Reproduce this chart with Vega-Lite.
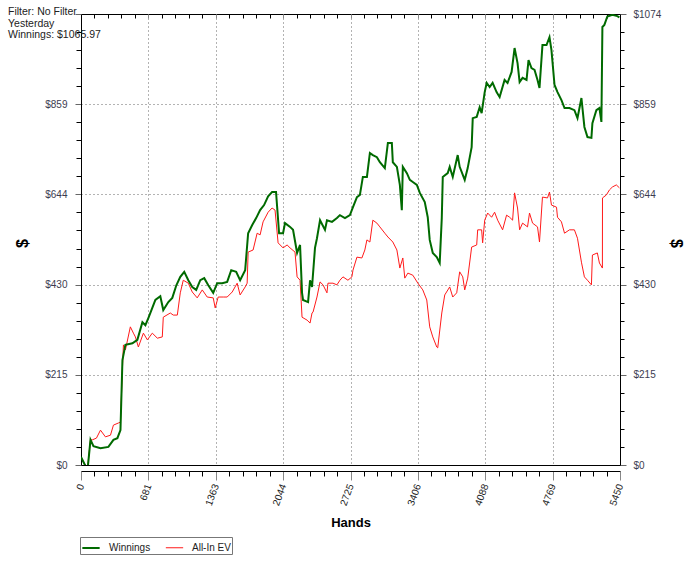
{
  "$schema": "https://vega.github.io/schema/vega-lite/v6.json",
  "autosize": {"type": "none"},
  "padding": {"left": 81, "top": 14, "right": 80, "bottom": 99},
  "width": 539,
  "height": 451,
  "background": "#ffffff",
  "title": {
    "text": ["Filter: No Filter", "Yesterday", "Winnings: $1065.97"],
    "anchor": "start",
    "frame": "group",
    "orient": "top",
    "offset": 0,
    "baseline": "top",
    "dx": -73,
    "dy": 32,
    "font": "Liberation Sans",
    "fontSize": 10.5,
    "fontWeight": "normal",
    "color": "#222222",
    "lineHeight": 11.8
  },
  "config": {
    "view": {"stroke": "#000000", "strokeWidth": 1},
    "axis": {
      "labelFont": "Liberation Sans",
      "labelFontSize": 10,
      "titleFont": "Liberation Sans",
      "labelOverlap": false,
      "labelFlush": false,
      "labelBound": false
    },
    "legend": {
      "orient": "none",
      "legendX": -1,
      "legendY": 523,
      "direction": "horizontal",
      "strokeColor": "#777777",
      "fillColor": "#ffffff",
      "padding": 1,
      "symbolType": "stroke",
      "symbolSize": 300,
      "symbolStrokeWidth": 2,
      "labelFont": "Liberation Sans",
      "labelFontSize": 10,
      "labelColor": "#222222",
      "columnPadding": 12,
      "labelOffset": 8
    }
  },
  "data": {
    "values": [
      {"hand":0,"amt":19,"series":"All-In EV"},{"hand":25,"amt":7,"series":"All-In EV"},{"hand":66,"amt":-7,"series":"All-In EV"},{"hand":96,"amt":60,"series":"All-In EV"},{"hand":116,"amt":60,"series":"All-In EV"},{"hand":156,"amt":64,"series":"All-In EV"},{"hand":197,"amt":83,"series":"All-In EV"},{"hand":247,"amt":67,"series":"All-In EV"},{"hand":298,"amt":71,"series":"All-In EV"},{"hand":328,"amt":95,"series":"All-In EV"},{"hand":378,"amt":100,"series":"All-In EV"},{"hand":399,"amt":102,"series":"All-In EV"},{"hand":419,"amt":231,"series":"All-In EV"},{"hand":429,"amt":286,"series":"All-In EV"},{"hand":449,"amt":274,"series":"All-In EV"},{"hand":499,"amt":329,"series":"All-In EV"},{"hand":530,"amt":314,"series":"All-In EV"},{"hand":550,"amt":305,"series":"All-In EV"},{"hand":580,"amt":281,"series":"All-In EV"},{"hand":631,"amt":314,"series":"All-In EV"},{"hand":671,"amt":298,"series":"All-In EV"},{"hand":721,"amt":314,"series":"All-In EV"},{"hand":772,"amt":302,"series":"All-In EV"},{"hand":822,"amt":305,"series":"All-In EV"},{"hand":832,"amt":352,"series":"All-In EV"},{"hand":903,"amt":362,"series":"All-In EV"},{"hand":933,"amt":357,"series":"All-In EV"},{"hand":974,"amt":357,"series":"All-In EV"},{"hand":1004,"amt":410,"series":"All-In EV"},{"hand":1034,"amt":440,"series":"All-In EV"},{"hand":1085,"amt":433,"series":"All-In EV"},{"hand":1125,"amt":412,"series":"All-In EV"},{"hand":1175,"amt":398,"series":"All-In EV"},{"hand":1226,"amt":417,"series":"All-In EV"},{"hand":1276,"amt":400,"series":"All-In EV"},{"hand":1337,"amt":398,"series":"All-In EV"},{"hand":1357,"amt":374,"series":"All-In EV"},{"hand":1387,"amt":400,"series":"All-In EV"},{"hand":1438,"amt":400,"series":"All-In EV"},{"hand":1478,"amt":400,"series":"All-In EV"},{"hand":1529,"amt":412,"series":"All-In EV"},{"hand":1579,"amt":433,"series":"All-In EV"},{"hand":1609,"amt":405,"series":"All-In EV"},{"hand":1660,"amt":424,"series":"All-In EV"},{"hand":1680,"amt":433,"series":"All-In EV"},{"hand":1690,"amt":507,"series":"All-In EV"},{"hand":1740,"amt":512,"series":"All-In EV"},{"hand":1781,"amt":552,"series":"All-In EV"},{"hand":1811,"amt":548,"series":"All-In EV"},{"hand":1841,"amt":579,"series":"All-In EV"},{"hand":1892,"amt":602,"series":"All-In EV"},{"hand":1932,"amt":612,"series":"All-In EV"},{"hand":1962,"amt":607,"series":"All-In EV"},{"hand":1993,"amt":529,"series":"All-In EV"},{"hand":2043,"amt":517,"series":"All-In EV"},{"hand":2084,"amt":524,"series":"All-In EV"},{"hand":2114,"amt":517,"series":"All-In EV"},{"hand":2164,"amt":507,"series":"All-In EV"},{"hand":2185,"amt":448,"series":"All-In EV"},{"hand":2215,"amt":440,"series":"All-In EV"},{"hand":2235,"amt":352,"series":"All-In EV"},{"hand":2286,"amt":345,"series":"All-In EV"},{"hand":2316,"amt":338,"series":"All-In EV"},{"hand":2336,"amt":362,"series":"All-In EV"},{"hand":2346,"amt":364,"series":"All-In EV"},{"hand":2386,"amt":400,"series":"All-In EV"},{"hand":2417,"amt":436,"series":"All-In EV"},{"hand":2447,"amt":429,"series":"All-In EV"},{"hand":2487,"amt":410,"series":"All-In EV"},{"hand":2497,"amt":433,"series":"All-In EV"},{"hand":2548,"amt":433,"series":"All-In EV"},{"hand":2588,"amt":429,"series":"All-In EV"},{"hand":2618,"amt":440,"series":"All-In EV"},{"hand":2649,"amt":448,"series":"All-In EV"},{"hand":2699,"amt":440,"series":"All-In EV"},{"hand":2739,"amt":448,"series":"All-In EV"},{"hand":2750,"amt":464,"series":"All-In EV"},{"hand":2790,"amt":495,"series":"All-In EV"},{"hand":2840,"amt":493,"series":"All-In EV"},{"hand":2870,"amt":512,"series":"All-In EV"},{"hand":2891,"amt":536,"series":"All-In EV"},{"hand":2921,"amt":531,"series":"All-In EV"},{"hand":2951,"amt":583,"series":"All-In EV"},{"hand":2992,"amt":576,"series":"All-In EV"},{"hand":3022,"amt":567,"series":"All-In EV"},{"hand":3072,"amt":552,"series":"All-In EV"},{"hand":3103,"amt":543,"series":"All-In EV"},{"hand":3153,"amt":531,"series":"All-In EV"},{"hand":3194,"amt":512,"series":"All-In EV"},{"hand":3224,"amt":469,"series":"All-In EV"},{"hand":3254,"amt":493,"series":"All-In EV"},{"hand":3274,"amt":445,"series":"All-In EV"},{"hand":3305,"amt":457,"series":"All-In EV"},{"hand":3355,"amt":452,"series":"All-In EV"},{"hand":3406,"amt":433,"series":"All-In EV"},{"hand":3456,"amt":417,"series":"All-In EV"},{"hand":3496,"amt":393,"series":"All-In EV"},{"hand":3526,"amt":329,"series":"All-In EV"},{"hand":3557,"amt":305,"series":"All-In EV"},{"hand":3597,"amt":281,"series":"All-In EV"},{"hand":3607,"amt":279,"series":"All-In EV"},{"hand":3648,"amt":362,"series":"All-In EV"},{"hand":3678,"amt":405,"series":"All-In EV"},{"hand":3728,"amt":424,"series":"All-In EV"},{"hand":3759,"amt":400,"series":"All-In EV"},{"hand":3799,"amt":410,"series":"All-In EV"},{"hand":3829,"amt":460,"series":"All-In EV"},{"hand":3860,"amt":448,"series":"All-In EV"},{"hand":3880,"amt":417,"series":"All-In EV"},{"hand":3910,"amt":445,"series":"All-In EV"},{"hand":3950,"amt":519,"series":"All-In EV"},{"hand":4001,"amt":524,"series":"All-In EV"},{"hand":4011,"amt":560,"series":"All-In EV"},{"hand":4051,"amt":560,"series":"All-In EV"},{"hand":4061,"amt":529,"series":"All-In EV"},{"hand":4082,"amt":583,"series":"All-In EV"},{"hand":4112,"amt":600,"series":"All-In EV"},{"hand":4152,"amt":590,"series":"All-In EV"},{"hand":4182,"amt":602,"series":"All-In EV"},{"hand":4213,"amt":583,"series":"All-In EV"},{"hand":4263,"amt":560,"series":"All-In EV"},{"hand":4303,"amt":595,"series":"All-In EV"},{"hand":4334,"amt":590,"series":"All-In EV"},{"hand":4364,"amt":583,"series":"All-In EV"},{"hand":4384,"amt":648,"series":"All-In EV"},{"hand":4414,"amt":612,"series":"All-In EV"},{"hand":4435,"amt":560,"series":"All-In EV"},{"hand":4465,"amt":576,"series":"All-In EV"},{"hand":4515,"amt":567,"series":"All-In EV"},{"hand":4535,"amt":600,"series":"All-In EV"},{"hand":4566,"amt":576,"series":"All-In EV"},{"hand":4616,"amt":567,"series":"All-In EV"},{"hand":4636,"amt":531,"series":"All-In EV"},{"hand":4666,"amt":638,"series":"All-In EV"},{"hand":4717,"amt":636,"series":"All-In EV"},{"hand":4737,"amt":650,"series":"All-In EV"},{"hand":4757,"amt":619,"series":"All-In EV"},{"hand":4808,"amt":614,"series":"All-In EV"},{"hand":4818,"amt":590,"series":"All-In EV"},{"hand":4858,"amt":579,"series":"All-In EV"},{"hand":4889,"amt":552,"series":"All-In EV"},{"hand":4939,"amt":560,"series":"All-In EV"},{"hand":4989,"amt":560,"series":"All-In EV"},{"hand":5020,"amt":540,"series":"All-In EV"},{"hand":5060,"amt":483,"series":"All-In EV"},{"hand":5090,"amt":448,"series":"All-In EV"},{"hand":5121,"amt":440,"series":"All-In EV"},{"hand":5161,"amt":429,"series":"All-In EV"},{"hand":5171,"amt":500,"series":"All-In EV"},{"hand":5221,"amt":505,"series":"All-In EV"},{"hand":5242,"amt":481,"series":"All-In EV"},{"hand":5272,"amt":469,"series":"All-In EV"},{"hand":5273,"amt":636,"series":"All-In EV"},{"hand":5312,"amt":643,"series":"All-In EV"},{"hand":5343,"amt":655,"series":"All-In EV"},{"hand":5373,"amt":662,"series":"All-In EV"},{"hand":5413,"amt":667,"series":"All-In EV"},{"hand":5444,"amt":660,"series":"All-In EV"},
      {"hand":0,"amt":19,"series":"Winnings"},{"hand":25,"amt":7,"series":"Winnings"},{"hand":66,"amt":-12,"series":"Winnings"},{"hand":96,"amt":60,"series":"Winnings"},{"hand":126,"amt":45,"series":"Winnings"},{"hand":197,"amt":40,"series":"Winnings"},{"hand":277,"amt":43,"series":"Winnings"},{"hand":328,"amt":60,"series":"Winnings"},{"hand":368,"amt":64,"series":"Winnings"},{"hand":399,"amt":83,"series":"Winnings"},{"hand":419,"amt":250,"series":"Winnings"},{"hand":449,"amt":286,"series":"Winnings"},{"hand":520,"amt":290,"series":"Winnings"},{"hand":570,"amt":298,"series":"Winnings"},{"hand":621,"amt":340,"series":"Winnings"},{"hand":651,"amt":333,"series":"Winnings"},{"hand":681,"amt":350,"series":"Winnings"},{"hand":721,"amt":374,"series":"Winnings"},{"hand":752,"amt":393,"series":"Winnings"},{"hand":802,"amt":402,"series":"Winnings"},{"hand":832,"amt":369,"series":"Winnings"},{"hand":883,"amt":388,"series":"Winnings"},{"hand":923,"amt":398,"series":"Winnings"},{"hand":964,"amt":428,"series":"Winnings"},{"hand":1004,"amt":448,"series":"Winnings"},{"hand":1044,"amt":460,"series":"Winnings"},{"hand":1085,"amt":440,"series":"Winnings"},{"hand":1125,"amt":424,"series":"Winnings"},{"hand":1165,"amt":417,"series":"Winnings"},{"hand":1206,"amt":440,"series":"Winnings"},{"hand":1246,"amt":445,"series":"Winnings"},{"hand":1287,"amt":428,"series":"Winnings"},{"hand":1337,"amt":410,"series":"Winnings"},{"hand":1377,"amt":433,"series":"Winnings"},{"hand":1428,"amt":433,"series":"Winnings"},{"hand":1478,"amt":436,"series":"Winnings"},{"hand":1519,"amt":464,"series":"Winnings"},{"hand":1569,"amt":460,"series":"Winnings"},{"hand":1609,"amt":440,"series":"Winnings"},{"hand":1660,"amt":464,"series":"Winnings"},{"hand":1690,"amt":552,"series":"Winnings"},{"hand":1730,"amt":571,"series":"Winnings"},{"hand":1771,"amt":588,"series":"Winnings"},{"hand":1811,"amt":607,"series":"Winnings"},{"hand":1851,"amt":619,"series":"Winnings"},{"hand":1892,"amt":640,"series":"Winnings"},{"hand":1932,"amt":650,"series":"Winnings"},{"hand":1972,"amt":650,"series":"Winnings"},{"hand":2003,"amt":552,"series":"Winnings"},{"hand":2043,"amt":552,"series":"Winnings"},{"hand":2063,"amt":576,"series":"Winnings"},{"hand":2114,"amt":567,"series":"Winnings"},{"hand":2144,"amt":560,"series":"Winnings"},{"hand":2185,"amt":505,"series":"Winnings"},{"hand":2215,"amt":524,"series":"Winnings"},{"hand":2235,"amt":410,"series":"Winnings"},{"hand":2245,"amt":393,"series":"Winnings"},{"hand":2296,"amt":388,"series":"Winnings"},{"hand":2316,"amt":440,"series":"Winnings"},{"hand":2336,"amt":424,"series":"Winnings"},{"hand":2366,"amt":517,"series":"Winnings"},{"hand":2386,"amt":540,"series":"Winnings"},{"hand":2417,"amt":583,"series":"Winnings"},{"hand":2467,"amt":560,"series":"Winnings"},{"hand":2487,"amt":583,"series":"Winnings"},{"hand":2538,"amt":579,"series":"Winnings"},{"hand":2588,"amt":588,"series":"Winnings"},{"hand":2618,"amt":595,"series":"Winnings"},{"hand":2669,"amt":588,"series":"Winnings"},{"hand":2719,"amt":595,"series":"Winnings"},{"hand":2750,"amt":614,"series":"Winnings"},{"hand":2790,"amt":638,"series":"Winnings"},{"hand":2820,"amt":643,"series":"Winnings"},{"hand":2850,"amt":686,"series":"Winnings"},{"hand":2891,"amt":686,"series":"Winnings"},{"hand":2921,"amt":743,"series":"Winnings"},{"hand":2951,"amt":738,"series":"Winnings"},{"hand":2992,"amt":733,"series":"Winnings"},{"hand":3022,"amt":721,"series":"Winnings"},{"hand":3072,"amt":707,"series":"Winnings"},{"hand":3103,"amt":767,"series":"Winnings"},{"hand":3143,"amt":767,"series":"Winnings"},{"hand":3153,"amt":721,"series":"Winnings"},{"hand":3194,"amt":710,"series":"Winnings"},{"hand":3224,"amt":667,"series":"Winnings"},{"hand":3244,"amt":607,"series":"Winnings"},{"hand":3254,"amt":710,"series":"Winnings"},{"hand":3295,"amt":695,"series":"Winnings"},{"hand":3325,"amt":679,"series":"Winnings"},{"hand":3355,"amt":674,"series":"Winnings"},{"hand":3396,"amt":667,"series":"Winnings"},{"hand":3426,"amt":648,"series":"Winnings"},{"hand":3476,"amt":626,"series":"Winnings"},{"hand":3506,"amt":590,"series":"Winnings"},{"hand":3526,"amt":536,"series":"Winnings"},{"hand":3557,"amt":505,"series":"Winnings"},{"hand":3597,"amt":495,"series":"Winnings"},{"hand":3627,"amt":481,"series":"Winnings"},{"hand":3648,"amt":588,"series":"Winnings"},{"hand":3658,"amt":686,"series":"Winnings"},{"hand":3708,"amt":695,"series":"Winnings"},{"hand":3728,"amt":710,"series":"Winnings"},{"hand":3759,"amt":686,"series":"Winnings"},{"hand":3809,"amt":738,"series":"Winnings"},{"hand":3829,"amt":710,"series":"Winnings"},{"hand":3880,"amt":679,"series":"Winnings"},{"hand":3910,"amt":707,"series":"Winnings"},{"hand":3950,"amt":757,"series":"Winnings"},{"hand":3961,"amt":826,"series":"Winnings"},{"hand":4001,"amt":829,"series":"Winnings"},{"hand":4031,"amt":852,"series":"Winnings"},{"hand":4051,"amt":838,"series":"Winnings"},{"hand":4082,"amt":888,"series":"Winnings"},{"hand":4102,"amt":910,"series":"Winnings"},{"hand":4132,"amt":900,"series":"Winnings"},{"hand":4162,"amt":910,"series":"Winnings"},{"hand":4202,"amt":888,"series":"Winnings"},{"hand":4233,"amt":876,"series":"Winnings"},{"hand":4283,"amt":917,"series":"Winnings"},{"hand":4313,"amt":910,"series":"Winnings"},{"hand":4354,"amt":936,"series":"Winnings"},{"hand":4384,"amt":993,"series":"Winnings"},{"hand":4414,"amt":957,"series":"Winnings"},{"hand":4435,"amt":912,"series":"Winnings"},{"hand":4465,"amt":922,"series":"Winnings"},{"hand":4505,"amt":917,"series":"Winnings"},{"hand":4525,"amt":964,"series":"Winnings"},{"hand":4555,"amt":945,"series":"Winnings"},{"hand":4586,"amt":941,"series":"Winnings"},{"hand":4616,"amt":917,"series":"Winnings"},{"hand":4636,"amt":898,"series":"Winnings"},{"hand":4666,"amt":1000,"series":"Winnings"},{"hand":4707,"amt":1000,"series":"Winnings"},{"hand":4737,"amt":1019,"series":"Winnings"},{"hand":4757,"amt":988,"series":"Winnings"},{"hand":4788,"amt":905,"series":"Winnings"},{"hand":4818,"amt":888,"series":"Winnings"},{"hand":4858,"amt":869,"series":"Winnings"},{"hand":4889,"amt":850,"series":"Winnings"},{"hand":4939,"amt":850,"series":"Winnings"},{"hand":4989,"amt":845,"series":"Winnings"},{"hand":5020,"amt":826,"series":"Winnings"},{"hand":5060,"amt":874,"series":"Winnings"},{"hand":5090,"amt":805,"series":"Winnings"},{"hand":5121,"amt":781,"series":"Winnings"},{"hand":5161,"amt":779,"series":"Winnings"},{"hand":5171,"amt":814,"series":"Winnings"},{"hand":5211,"amt":845,"series":"Winnings"},{"hand":5242,"amt":850,"series":"Winnings"},{"hand":5262,"amt":817,"series":"Winnings"},{"hand":5272,"amt":1043,"series":"Winnings"},{"hand":5292,"amt":1048,"series":"Winnings"},{"hand":5322,"amt":1068,"series":"Winnings"},{"hand":5373,"amt":1072,"series":"Winnings"},{"hand":5423,"amt":1069,"series":"Winnings"},{"hand":5444,"amt":1066,"series":"Winnings"}
    ]
  },
  "layer": [
    {
      "mark": {"type": "line", "clip": true, "interpolate": "linear"},
      "encoding": {
        "x": {
          "field": "hand", "type": "quantitative",
          "scale": {"domain": [0, 5450], "nice": false, "zero": false},
          "axis": {
            "orient": "bottom",
            "offset": 6,
            "values": [0,136.25,272.5,408.75,545,681.25,817.5,953.75,1090,1226.25,1362.5,1498.75,1635,1771.25,1907.5,2043.75,2180,2316.25,2452.5,2588.75,2725,2861.25,2997.5,3133.75,3270,3406.25,3542.5,3678.75,3815,3951.25,4087.5,4223.75,4360,4496.25,4632.5,4768.75,4905,5041.25,5177.5,5313.75,5450],
            "labelExpr": "abs(datum.value/681.25 - round(datum.value/681.25)) < 0.001 ? '' + round(datum.value) : ''",
            "labelAngle": -70,
            "labelAlign": "right",
            "labelBaseline": "middle",
            "labelPadding": 4,
            "labelColor": "#222222",
            "tickSize": {"condition": {"test": "abs(datum.value/681.25 - round(datum.value/681.25)) < 0.001", "value": 9}, "value": 5},
            "tickColor": {"condition": {"test": "abs(datum.value/681.25 - round(datum.value/681.25)) < 0.001", "value": "#888888"}, "value": "#000000"},
            "domainColor": "#000000",
            "grid": true,
            "gridColor": "#666666",
            "gridDash": [1, 3],
            "gridOpacity": {"condition": {"test": "abs(datum.value/681.25 - round(datum.value/681.25)) < 0.001 && datum.value > 0 && datum.value < 5450", "value": 1}, "value": 0},
            "title": "Hands",
            "titleFontSize": 13,
            "titleFontWeight": "bold",
            "titleColor": "#000000",
            "titleY": 51,
            "titleBaseline": "middle"
          }
        },
        "y": {
          "field": "amt", "type": "quantitative",
          "scale": {"domain": [0, 1074], "nice": false, "zero": false},
          "axis": {
            "orient": "left",
            "values": [0,42.96,85.92,128.88,171.84,214.8,257.76,300.72,343.68,386.64,429.6,472.56,515.52,558.48,601.44,644.4,687.36,730.32,773.28,816.24,859.2,902.16,945.12,988.08,1031.04,1074],
            "labelExpr": "abs(datum.value/214.8 - round(datum.value/214.8)) < 0.001 && datum.value < 1000 ? '$' + round(datum.value) : ''",
            "labelPadding": 8,
            "labelColor": "#3c3c50",
            "tickSize": {"condition": {"test": "abs(datum.value/214.8 - round(datum.value/214.8)) < 0.001", "value": 6}, "value": 5},
            "tickColor": {"condition": {"test": "abs(datum.value/214.8 - round(datum.value/214.8)) < 0.001", "value": "#666666"}, "value": "#000000"},
            "domainColor": "#000000",
            "grid": true,
            "gridColor": "#666666",
            "gridDash": [1, 3],
            "gridOpacity": {"condition": {"test": "abs(datum.value/214.8 - round(datum.value/214.8)) < 0.001 && datum.value > 0 && datum.value < 1074", "value": 1}, "value": 0},
            "title": "$",
            "titleFontSize": 16,
            "titleFontWeight": "bold",
            "titleColor": "#000000",
            "titleX": -59,
            "titleY": 229,
            "titleAlign": "center",
            "titleBaseline": "middle"
          }
        },
        "color": {
          "field": "series", "type": "nominal",
          "scale": {"domain": ["Winnings", "All-In EV"], "range": ["#006a00", "#ff1a1a"]},
          "legend": {"title": null}
        },
        "strokeWidth": {
          "field": "series", "type": "nominal",
          "scale": {"domain": ["Winnings", "All-In EV"], "range": [2, 1]},
          "legend": null
        }
      }
    },
    {
      "mark": {"type": "line", "opacity": 0},
      "encoding": {
        "x": {
          "field": "hand", "type": "quantitative",
          "scale": {"domain": [0, 5450], "nice": false, "zero": false},
          "axis": {
            "orient": "top",
            "values": [0,136.25,272.5,408.75,545,681.25,817.5,953.75,1090,1226.25,1362.5,1498.75,1635,1771.25,1907.5,2043.75,2180,2316.25,2452.5,2588.75,2725,2861.25,2997.5,3133.75,3270,3406.25,3542.5,3678.75,3815,3951.25,4087.5,4223.75,4360,4496.25,4632.5,4768.75,4905,5041.25,5177.5,5313.75,5450],
            "labels": false,
            "domain": false,
            "grid": false,
            "tickSize": -4,
            "tickColor": {"condition": {"test": "abs(datum.value/681.25 - round(datum.value/681.25)) < 0.001", "value": "#888888"}, "value": "#000000"},
            "title": null
          }
        },
        "y": {
          "field": "amt", "type": "quantitative",
          "scale": {"domain": [0, 1074], "nice": false, "zero": false},
          "axis": {
            "orient": "right",
            "values": [0,42.96,85.92,128.88,171.84,214.8,257.76,300.72,343.68,386.64,429.6,472.56,515.52,558.48,601.44,644.4,687.36,730.32,773.28,816.24,859.2,902.16,945.12,988.08,1031.04,1074],
            "labelExpr": "abs(datum.value/214.8 - round(datum.value/214.8)) < 0.001 ? '$' + round(datum.value) : ''",
            "labelPadding": 7,
            "labelColor": "#3c3c50",
            "tickSize": {"condition": {"test": "abs(datum.value/214.8 - round(datum.value/214.8)) < 0.001", "value": 6}, "value": 4},
            "tickColor": {"condition": {"test": "abs(datum.value/214.8 - round(datum.value/214.8)) < 0.001", "value": "#666666"}, "value": "#000000"},
            "domainColor": "#000000",
            "grid": false,
            "title": "$",
            "titleFontSize": 16,
            "titleFontWeight": "bold",
            "titleColor": "#000000",
            "titleX": 55,
            "titleY": 229,
            "titleAlign": "center",
            "titleBaseline": "middle"
          }
        },
        "detail": {"field": "series", "type": "nominal"}
      }
    }
  ],
  "resolve": {"axis": {"x": "independent", "y": "independent"}}
}
